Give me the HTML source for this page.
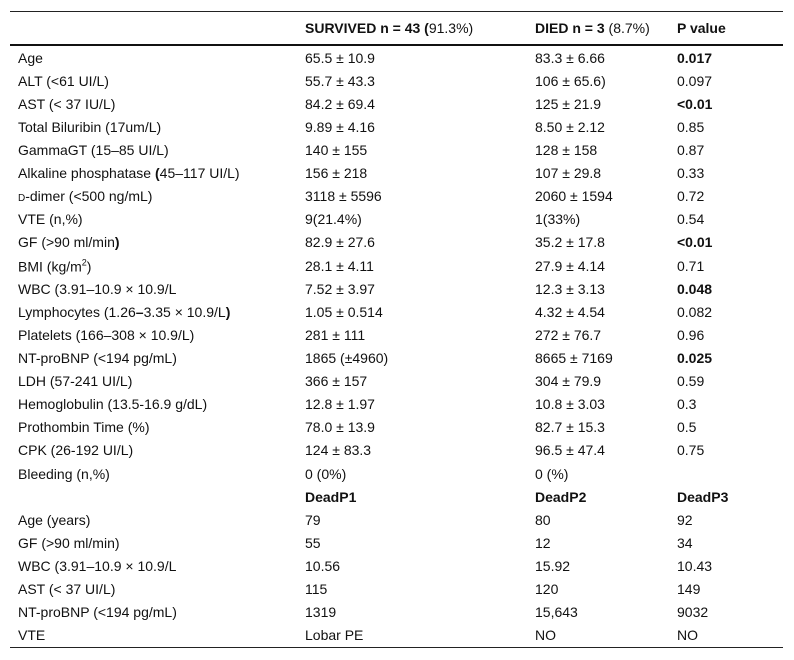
<!DOCTYPE html>
<html><head><meta charset="utf-8"><style>
body{margin:0;background:#fff;width:794px;height:660px;overflow:hidden;font-family:"Liberation Sans",Arial,sans-serif;font-size:14px;color:#111;}
#tbl{position:absolute;left:10px;top:11px;width:773px;border-top:1px solid #222;border-bottom:1.5px solid #222;}
.hdr{height:32px;border-bottom:2px solid #111;position:relative;font-weight:bold;}
.row{height:23.12px;position:relative;}
.c{position:absolute;top:50%;transform:translateY(-50%);white-space:nowrap;}
.c1{left:8px}.c2{left:295px}.c3{left:525px}.c4{left:667px}
b{font-weight:bold}
</style></head><body>
<div id="tbl">
<div class="hdr">
<span class="c c2">SURVIVED n = 43 (<span style="font-weight:normal">91.3%)</span></span>
<span class="c c3">DIED n = 3 <span style="font-weight:normal">(8.7%)</span></span>
<span class="c c4">P value</span>
</div>
<div id="body"></div>
</div>
<script>
const rows=[
["Age","65.5 ± 10.9","83.3 ± 6.66","<b>0.017</b>"],
["ALT (&lt;61 UI/L)","55.7 ± 43.3","106 ± 65.6)","0.097"],
["AST (&lt; 37 IU/L)","84.2 ± 69.4","125 ± 21.9","<b>&lt;0.01</b>"],
["Total Biluribin (17um/L)","9.89 ± 4.16","8.50 ± 2.12","0.85"],
["GammaGT (15–85 UI/L)","140 ± 155","128 ± 158","0.87"],
["Alkaline phosphatase <b>(</b>45–117 UI/L)","156 ± 218","107 ± 29.8","0.33"],
["<span style='font-size:10px'>D</span>-dimer (&lt;500 ng/mL)","3118 ± 5596","2060 ± 1594","0.72"],
["VTE (n,%)","9(21.4%)","1(33%)","0.54"],
["GF (&gt;90 ml/min<b>)</b>","82.9 ± 27.6","35.2 ± 17.8","<b>&lt;0.01</b>"],
["BMI (kg/m<sup style='font-size:9px'>2</sup>)","28.1 ± 4.11","27.9 ± 4.14","0.71"],
["WBC (3.91–10.9 × 10.9/L","7.52 ± 3.97","12.3 ± 3.13","<b>0.048</b>"],
["Lymphocytes (1.26<b>–</b>3.35 × 10.9/L<b>)</b>","1.05 ± 0.514","4.32 ± 4.54","0.082"],
["Platelets (166–308 × 10.9/L)","281 ± 111","272 ± 76.7","0.96"],
["NT-proBNP (&lt;194 pg/mL)","1865 (±4960)","8665 ± 7169","<b>0.025</b>"],
["LDH (57-241 UI/L)","366 ± 157","304 ± 79.9","0.59"],
["Hemoglobulin (13.5-16.9 g/dL)","12.8 ± 1.97","10.8 ± 3.03","0.3"],
["Prothombin Time (%)","78.0 ± 13.9","82.7 ± 15.3","0.5"],
["CPK (26-192 UI/L)","124 ± 83.3","96.5 ± 47.4","0.75"],
["Bleeding (n,%)","0 (0%)","0 (%)",""],
["","<b>DeadP1</b>","<b>DeadP2</b>","<b>DeadP3</b>"],
["Age (years)","79","80","92"],
["GF (&gt;90 ml/min)","55","12","34"],
["WBC (3.91–10.9 × 10.9/L","10.56","15.92","10.43"],
["AST (&lt; 37 UI/L)","115","120","149"],
["NT-proBNP (&lt;194 pg/mL)","1319","15,643","9032"],
["VTE","Lobar PE","NO","NO"]];
const body=document.getElementById('body');
rows.forEach((r,i)=>{
 const d=document.createElement('div');d.className='row';
 
 
 r.forEach((t,j)=>{const s=document.createElement('span');s.className='c c'+(j+1);s.innerHTML=t;
  
  
  d.appendChild(s);});
 body.appendChild(d);
});
</script>
</body></html>
